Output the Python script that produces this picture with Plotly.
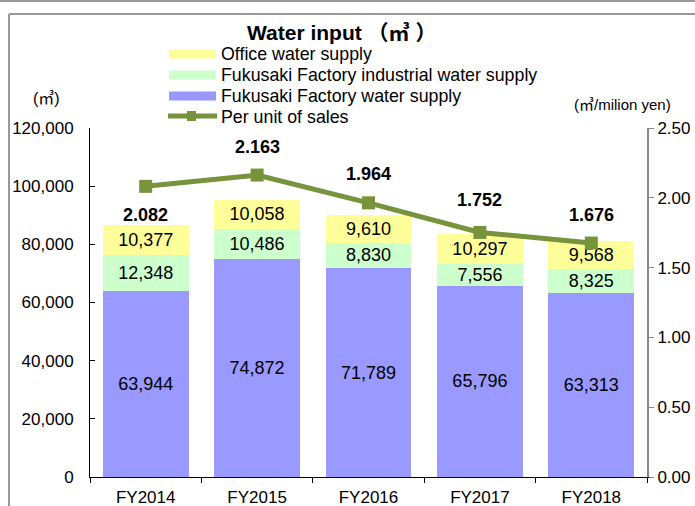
import plotly.graph_objects as go

years = ["FY2014", "FY2015", "FY2016", "FY2017", "FY2018"]
factory_water = [63944, 74872, 71789, 65796, 63313]
industrial_water = [12348, 10486, 8830, 7556, 8325]
office_water = [10377, 10058, 9610, 10297, 9568]
per_unit = [2.082, 2.163, 1.964, 1.752, 1.676]
per_unit_label_shift = [-29, 28, 29, 32, 28]

series_names = ["Office water supply", "Fukusaki Factory industrial water supply",
                "Fukusaki Factory water supply", "Per unit of sales"]
series_colors = ["#FFFF99", "#CCFFCC", "#9999FF", "#77933C"]

FONT = "Liberation Sans, Arial, sans-serif"
CJK = "Liberation Sans, Noto Sans CJK JP, sans-serif"

# pixel -> paper helpers (plot area: x 90..647, y 128..477)
L, R, T, B = 90, 647, 128, 477
def px(x):
    return (x - L) / (R - L)
def py(y):
    return (B - y) / (B - T)

fig = go.Figure()

def fmt(v):
    return f"{v:,}"

bar_data = [(factory_water, series_names[2], series_colors[2]),
            (industrial_water, series_names[1], series_colors[1]),
            (office_water, series_names[0], series_colors[0])]
for vals, name, color in bar_data:
    fig.add_trace(go.Bar(
        x=years, y=vals, name=name, showlegend=False,
        marker=dict(color=color, line=dict(width=0)),
        text=[fmt(v) for v in vals], textposition="inside",
        insidetextanchor="middle", textfont=dict(size=18, color="black", family=FONT),
    ))
fig.add_trace(go.Scatter(
    x=years, y=per_unit, name=series_names[3], yaxis="y2", showlegend=False,
    mode="lines+markers",
    line=dict(color=series_colors[3], width=5),
    marker=dict(symbol="square", size=13, color=series_colors[3]),
))

for x, v, s in zip(years, per_unit, per_unit_label_shift):
    fig.add_annotation(x=x, y=v, yref="y2", text=f"<b>{v:.3f}</b>",
                       showarrow=False, yshift=s,
                       font=dict(size=18, color="black", family=FONT))

# legend (drawn as key swatches + texts)
legend_rows = [54, 75, 96, 117]
for i, (name, color, yc) in enumerate(zip(series_names, series_colors, legend_rows)):
    if i < 3:
        fig.add_shape(type="rect", xref="paper", yref="paper",
                      x0=px(169), x1=px(216), y0=py(yc - 4.5), y1=py(yc + 4.5),
                      fillcolor=color, line=dict(width=0))
    else:
        fig.add_shape(type="line", xref="paper", yref="paper",
                      x0=px(168), x1=px(217), y0=py(yc - 1), y1=py(yc - 1),
                      line=dict(color=color, width=5))
        fig.add_shape(type="rect", xref="paper", yref="paper",
                      x0=px(187), x1=px(196), y0=py(yc - 6), y1=py(yc + 4),
                      fillcolor=color, line=dict(width=0))
    fig.add_annotation(xref="paper", yref="paper", x=px(219), y=py(yc),
                       xanchor="left", yanchor="middle", text=name, showarrow=False,
                       font=dict(size=17.8, family=FONT, color="black"))

# axis unit labels
fig.add_annotation(xref="paper", yref="paper", x=px(46), y=py(99), xanchor="center",
                   yanchor="middle", text="(㎥)", showarrow=False,
                   font=dict(size=16, family=CJK, color="black"))
fig.add_annotation(xref="paper", yref="paper", x=px(622), y=py(105), xanchor="center",
                   yanchor="middle", text="(㎥/milion yen)", showarrow=False,
                   font=dict(size=15, family=CJK, color="black"))

# frame decorations
gray = "#999999"
fig.add_shape(type="line", xref="paper", yref="paper",
              x0=px(0), x1=px(695), y0=py(1), y1=py(1), line=dict(color=gray, width=2))
fig.add_shape(type="line", xref="paper", yref="paper",
              x0=px(9), x1=px(695), y0=py(14), y1=py(14), line=dict(color=gray, width=2))
fig.add_shape(type="line", xref="paper", yref="paper",
              x0=px(9), x1=px(9), y0=py(14), y1=py(510), line=dict(color=gray, width=2))

fig.update_layout(
    width=695, height=506,
    margin=dict(l=L, r=695 - R, t=T, b=506 - B, autoexpand=False),
    paper_bgcolor="white", plot_bgcolor="white",
    barmode="stack", bargap=0.23,
    uniformtext=dict(minsize=18, mode="show"),
    font=dict(family=FONT, color="black"),
    showlegend=False,
    title=dict(text="<b>Water input （㎥ ）</b>", x=247 / 695, xanchor="left",
               y=1 - 33 / 506, yanchor="middle",
               font=dict(size=21, family=CJK, color="black")),
    xaxis=dict(showline=True, linecolor="black", linewidth=1, automargin=False,
               ticks="outside", ticklen=5, tickson="boundaries", tickcolor="black",
               ticklabelstandoff=5, tickfont=dict(size=17, family=FONT)),
    yaxis=dict(range=[0, 120000], dtick=20000, tickformat=",", showgrid=False,
               showline=True, linecolor="black", linewidth=1, ticks="inside",
               ticklen=5, tickcolor="black", zeroline=False, automargin=False,
               ticklabelstandoff=12, tickfont=dict(size=17, family=FONT)),
    yaxis2=dict(range=[0, 2.5], dtick=0.5, tickformat=".2f", overlaying="y", side="right",
                showgrid=False, showline=True, linecolor="#888888", linewidth=2,
                ticks="outside", ticklen=5, tickcolor="#888888", zeroline=False,
                automargin=False, tickfont=dict(size=17, family=FONT)),
)

fig.write_html("out.html", config={"displayModeBar": False},
               post_script="document.body.style.margin='0';document.body.style.overflow='hidden';")
